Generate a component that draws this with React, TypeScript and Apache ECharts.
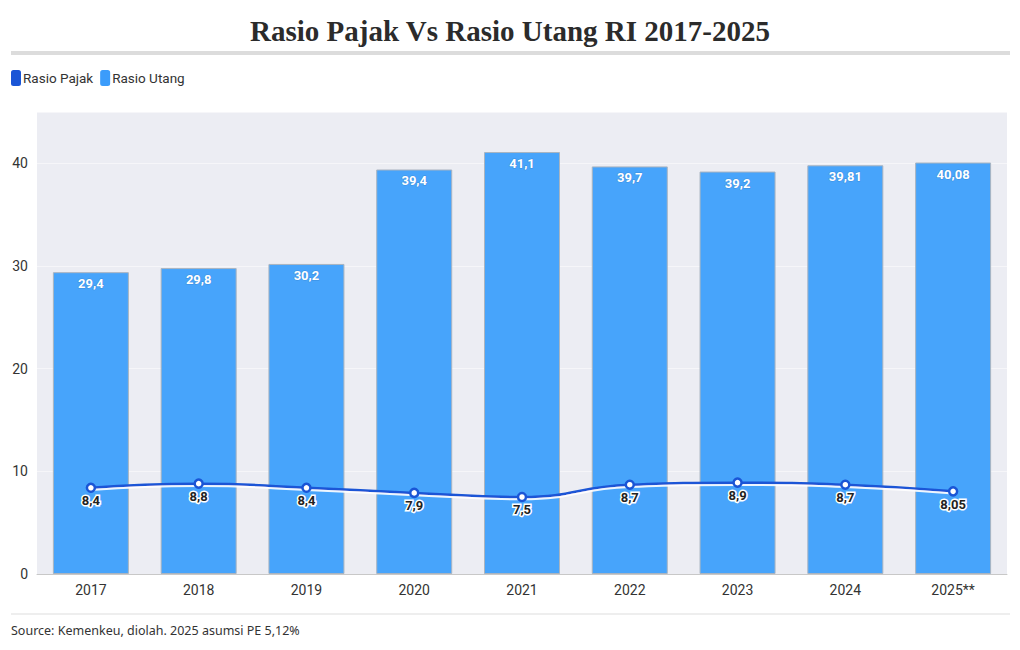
import React, { useEffect, useRef } from "react";
import * as echarts from "echarts";

const categories = ["2017", "2018", "2019", "2020", "2021", "2022", "2023", "2024", "2025**"];
const rasioUtang = [29.4, 29.8, 30.2, 39.4, 41.1, 39.7, 39.2, 39.81, 40.08];
const rasioPajak = [8.4, 8.8, 8.4, 7.9, 7.5, 8.7, 8.9, 8.7, 8.05];
const yTicks = { min: 0, max: 45, interval: 10 };

const fmt = (v: number) => String(v).replace(".", ",");

export default function App() {
  const ref = useRef<HTMLDivElement>(null);
  useEffect(() => {
    if (!ref.current) return;
    const chart = echarts.init(ref.current, undefined, { renderer: "svg" });
    chart.setOption({
      animation: false,
      backgroundColor: "#ffffff",
      title: {
        text: "Rasio Pajak Vs Rasio Utang RI 2017-2025",
        left: "center",
        top: 11,
        textStyle: {
          fontFamily: "Liberation Serif",
          fontWeight: "bold",
          fontSize: 29,
          color: "#2b2b2b",
        },
      },
      graphic: [
        { type: "rect", shape: { x: 11, y: 51, width: 999, height: 4 }, style: { fill: "#dcdcdc" } },
        { type: "line", shape: { x1: 11, y1: 614, x2: 1010, y2: 614 }, style: { stroke: "#dddddd", lineWidth: 1 } },
        {
          type: "text",
          left: 11,
          top: 624,
          style: {
            text: "Source: Kemenkeu, diolah. 2025 asumsi PE 5,12%",
            fontFamily: "Noto Sans",
            fontSize: 12.5,
            fill: "#333333",
          },
        },
      ],
      legend: {
        left: 6,
        top: 65,
        itemGap: 7,
        itemWidth: 10,
        itemHeight: 16,
        textStyle: { fontFamily: "Roboto", fontSize: 13.5, color: "#333", padding: [0, 0, 0, -3] },
        data: [
          { name: "Rasio Pajak", icon: "roundRect", itemStyle: { color: "#1a55d6", borderWidth: 0 } },
          { name: "Rasio Utang", icon: "roundRect", itemStyle: { color: "#3b9cfb", borderWidth: 0 } },
        ],
      },
      grid: { left: 37, right: 13, top: 112, bottom: 76, backgroundColor: "#ecedf3", show: true, borderWidth: 0 },
      xAxis: {
        type: "category",
        data: categories,
        axisLine: { show: true, lineStyle: { color: "#c8c8c8" } },
        axisTick: { show: false },
        axisLabel: { fontFamily: "Roboto", fontSize: 14, color: "#333", margin: 9 },
      },
      yAxis: {
        type: "value",
        min: yTicks.min,
        max: yTicks.max,
        interval: yTicks.interval,
        axisLine: { show: false },
        axisTick: { show: false },
        splitLine: { show: true, lineStyle: { color: "#f6f6f9", width: 1 } },
        axisLabel: {
          fontFamily: "Roboto",
          fontSize: 14,
          color: "#333",
          margin: 9,
          showMaxLabel: false,
        },
      },
      series: [
        {
          name: "Rasio Utang",
          type: "bar",
          data: rasioUtang,
          barWidth: 76,
          z: 2,
          itemStyle: { color: "#47a4fb", borderColor: "#a9b4c0", borderWidth: 1 },
          label: {
            show: true,
            position: "insideTop",
            distance: 5,
            formatter: (p: any) => fmt(p.value),
            fontFamily: "Roboto",
            fontWeight: "bold",
            fontSize: 13,
            color: "#ffffff",
            textBorderColor: "#3a8ee0",
            textBorderWidth: 1,
          },
        },
        {
          name: "Rasio Pajak",
          type: "line",
          data: rasioPajak,
          smooth: true,
          z: 5,
          symbol: "circle",
          symbolSize: 8,
          lineStyle: {
            color: "#1a55d6",
            width: 2.5,
            shadowColor: "rgba(255,255,255,0.9)",
            shadowBlur: 0,
            shadowOffsetY: 2,
          },
          itemStyle: { color: "#ffffff", borderColor: "#1a55d6", borderWidth: 2.5 },
          label: {
            show: true,
            position: "bottom",
            distance: 1,
            formatter: (p: any) => fmt(p.value),
            fontFamily: "Roboto",
            fontWeight: "bold",
            fontSize: 13,
            color: "#222222",
            textBorderColor: "#ffffff",
            textBorderWidth: 3,
          },
        },
      ],
    });
    return () => chart.dispose();
  }, []);
  return (
    <div
      ref={ref}
      style={{ position: "absolute", left: 0, top: 0, width: 1020, height: 650 }}
    />
  );
}
